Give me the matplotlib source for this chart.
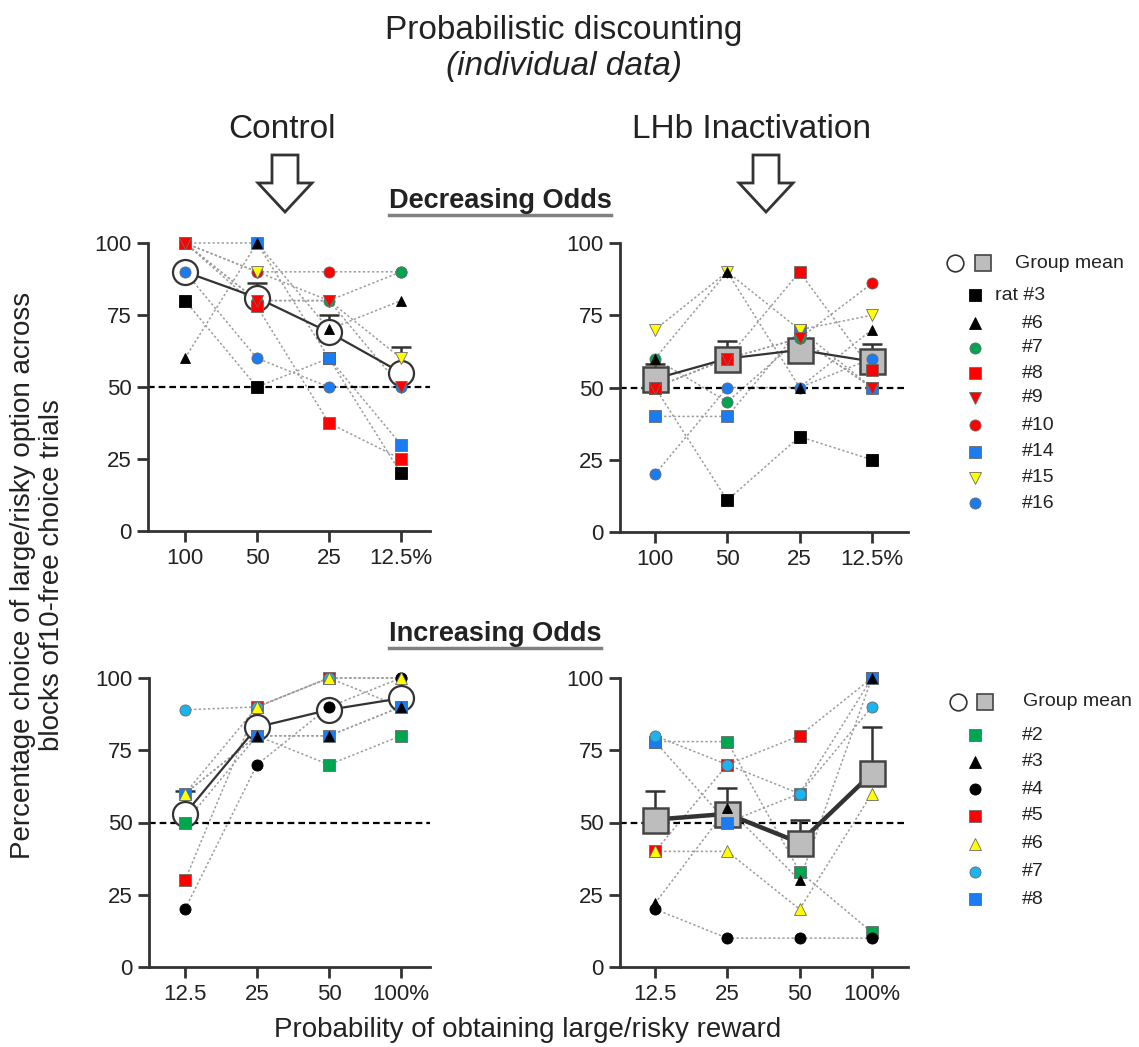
import matplotlib
matplotlib.use('Agg')
import matplotlib.pyplot as plt
from matplotlib.patches import Polygon
from matplotlib.lines import Line2D

plt.rcParams['font.family'] = ['Liberation Sans', 'DejaVu Sans']

# ---------------- data ----------------
dec_labels = ['100', '50', '25', '12.5%']
inc_labels = ['12.5', '25', '50', '100%']

dec_rats = ['rat #3', '#6', '#7', '#8', '#9', '#10', '#14', '#15', '#16']
dec_markers = ['s', '^', 'o', 's', 'v', 'o', 's', 'v', 'o']
dec_colors = ['#000000', '#000000', '#00a550', '#ff0000', '#ff0000', '#ff0000',
              '#1a7cf0', '#ffff00', '#1a7cf0']

inc_rats = ['#2', '#3', '#4', '#5', '#6', '#7', '#8']
inc_markers = ['s', '^', 'o', 's', '^', 'o', 's']
inc_colors = ['#00a550', '#000000', '#000000', '#ff0000', '#ffff00', '#1ab4f0', '#1a7cf0']

# Decreasing odds, control (rows follow dec_rats)
dec_control = [
    [80, 50, 60, 20],
    [60, 100, 70, 80],
    [100, 80, 80, 90],
    [100, 78, 37.5, 25],
    [100, 80, 80, 50],
    [100, 90, 90, 90],
    [100, 100, 60, 30],
    [100, 90, 80, 60],
    [90, 60, 50, 50],
]
dec_control_mean = [90, 81, 69, 55]
dec_control_sem = [2, 5, 6, 9]

# Decreasing odds, LHb inactivation
dec_lhb = [
    [50, 11, 33, 25],
    [60, 90, 50, 70],
    [60, 45, 67, 50],
    [50, 60, 90, 56],
    [50, 60, 67, 50],
    [50, 60, 67, 86],
    [40, 40, 70, 50],
    [70, 90, 70, 75],
    [20, 50, 50, 60],
]
dec_lhb_mean = [53, 60, 63, 59]
dec_lhb_sem = [5, 6, 2, 6]

# Increasing odds, control (rows follow inc_rats)
inc_control = [
    [50, 80, 70, 80],
    [60, 80, 80, 90],
    [20, 70, 90, 100],
    [30, 90, 100, 90],
    [60, 90, 100, 100],
    [89, 90, 100, 100],
    [60, 80, 80, 90],
]
inc_control_mean = [53, 83, 89, 93]
inc_control_sem = [8, 2, 2, 2]

# Increasing odds, LHb inactivation
inc_lhb = [
    [78, 78, 33, 12],
    [22, 55, 30, 100],
    [20, 10, 10, 10],
    [40, 70, 80, 100],
    [40, 40, 20, 60],
    [80, 70, 60, 90],
    [78, 50, 60, 100],
]
inc_lhb_mean = [51, 53, 43, 67]
inc_lhb_sem = [10, 9, 8, 16]

# drawing order of the individual markers (which one sits on top)
dec_draw_order = [0, 5, 2, 6, 8, 3, 7, 4, 1]
inc_draw_order = [0, 3, 6, 5, 2, 1, 4]

# ---------------- figure ----------------
W, H = 1139, 1047
fig = plt.figure(figsize=(W / 100, H / 100), dpi=100)
TXT = '#222222'
AX = '#333333'


def fx(px):
    return px / W


def fy(py):
    return 1 - py / H


def make_ax(left, right, top, bottom, tick0, spacing):
    ax = fig.add_axes([fx(left), fy(bottom), (right - left) / W, (bottom - top) / H])
    ax.patch.set_visible(False)
    ax.set_xlim((left - tick0) / spacing, (right - tick0) / spacing)
    ax.set_ylim(0, 100)
    for s in ['top', 'right']:
        ax.spines[s].set_visible(False)
    for s in ['left', 'bottom']:
        ax.spines[s].set_color(AX)
        ax.spines[s].set_linewidth(2)
    ax.tick_params(direction='out', length=8, width=2, color=AX,
                   labelsize=16, labelcolor=TXT, pad=4)
    ax.set_yticks([0, 25, 50, 75, 100])
    ax.set_yticklabels(['0', '25', '50', '75', '100'])
    return ax


def draw_panel(ax, xlabels, data, markers, colors, order, mean, sem, mean_kind, mean_lw):
    x = list(range(len(xlabels)))
    ax.set_xticks(x)
    ax.set_xticklabels(xlabels)
    ax.axhline(50, color='black', lw=1.6, ls=(0, (3, 1.8)), zorder=1.5)
    for vals in data:
        ax.plot(x, vals, ls=(0, (1.5, 1.5)), color='#9c9c9c', lw=1.1, zorder=1,
                clip_on=False)
    ax.plot(x, mean, color='#333333', lw=mean_lw, zorder=2, solid_capstyle='round')
    ax.errorbar(x, mean, yerr=[[0] * len(sem), sem], fmt='none', ecolor='#333333',
                elinewidth=1.8, capsize=7, capthick=1.8, zorder=2.2)
    if mean_kind == 'circle':
        ax.plot(x, mean, ls='none', marker='o', ms=18, mfc='white', mec='#333333',
                mew=1.6, zorder=3, clip_on=False)
    else:
        ax.plot(x, mean, ls='none', marker='s', ms=18, mfc='#bdbdbd', mec='#444444',
                mew=1.8, zorder=3, clip_on=False)
    for k, i in enumerate(order):
        vals, m, c = data[i], markers[i], colors[i]
        edge = '#000000' if c == '#000000' else '#6a6a6a'
        ms = 7 if (m in '^v' and c == '#000000') else 8
        ax.plot(x, vals, ls='none', marker=m, ms=ms, mfc=c, mec=edge, mew=0.6,
                zorder=4 + 0.01 * k, clip_on=False)


ax_tl = make_ax(148, 430, 243, 531, 185, 72)
ax_tr = make_ax(620, 908, 243, 532, 655, 72.3)
ax_bl = make_ax(149, 430, 678, 967, 185, 72)
ax_br = make_ax(620, 908, 678, 967, 655, 72.3)

draw_panel(ax_tl, dec_labels, dec_control, dec_markers, dec_colors, dec_draw_order,
           dec_control_mean, dec_control_sem, 'circle', 1.6)
draw_panel(ax_tr, dec_labels, dec_lhb, dec_markers, dec_colors, dec_draw_order,
           dec_lhb_mean, dec_lhb_sem, 'square', 1.6)
draw_panel(ax_bl, inc_labels, inc_control, inc_markers, inc_colors, inc_draw_order,
           inc_control_mean, inc_control_sem, 'circle', 1.6)
draw_panel(ax_br, inc_labels, inc_lhb, inc_markers, inc_colors, inc_draw_order,
           inc_lhb_mean, inc_lhb_sem, 'square', 3.2)

# ---------------- texts ----------------
fig.text(fx(564), fy(30), 'Probabilistic discounting', ha='center', va='center',
         fontsize=24, color=TXT)
fig.text(fx(564), fy(67), '(individual data)', ha='center', va='center',
         fontsize=24, style='italic', color=TXT)
fig.text(fx(282), fy(130), 'Control', ha='center', va='center', fontsize=24, color=TXT)
fig.text(fx(752), fy(130), 'LHb Inactivation', ha='center', va='center',
         fontsize=24, color=TXT)
t_dec = fig.text(fx(500), fy(201), 'Decreasing Odds', ha='center', va='center',
                 fontsize=19.5, weight='bold', color=TXT)
t_inc = fig.text(fx(495), fy(634), 'Increasing Odds', ha='center', va='center',
                 fontsize=19.5, weight='bold', color=TXT)
fig.text(fx(38), fy(575),
         'Percentage choice of large/risky option across\nblocks of10-free choice trials',
         rotation=90, ha='center', va='center', fontsize=20, color=TXT,
         multialignment='center', linespacing=1.15)
fig.text(fx(528), fy(1030), 'Probability of obtaining large/risky reward',
         ha='center', va='center', fontsize=20, color=TXT)

# ---------------- overlay: arrows & legends ----------------
ov = fig.add_axes([0, 0, 1, 1], zorder=10)
ov.patch.set_visible(False)
ov.set_xlim(0, W)
ov.set_ylim(H, 0)
ov.axis('off')


def down_arrow(cx):
    pts = [(cx - 13, 155), (cx + 13, 155), (cx + 13, 183), (cx + 27, 183),
           (cx, 212), (cx - 27, 183), (cx - 13, 183)]
    ov.add_patch(Polygon(pts, closed=True, facecolor='white', edgecolor='#333333',
                         lw=2, joinstyle='miter'))


down_arrow(285)
down_arrow(766)

# top legend
ov.plot([955], [263], marker='o', ms=12, mfc='white', mec='#333333', mew=1.2, ls='none')
ov.plot([983], [263], marker='s', ms=12, mfc='#bdbdbd', mec='#444444', mew=1.2, ls='none')
ov.text(1015, 263, 'Group mean', fontsize=14, va='center', ha='left', color=TXT)
top_rows = [295, 323, 348, 373, 398, 425, 452, 478, 503]
for name, m, c, yy in zip(dec_rats, dec_markers, dec_colors, top_rows):
    edge = '#000000' if c == '#000000' else '#6a6a6a'
    ov.plot([975], [yy], marker=m, ms=8, mfc=c, mec=edge, mew=0.6, ls='none')
    xt = 995 if name.startswith('rat') else 1022
    ov.text(xt, yy, name, fontsize=14, va='center', ha='left', color=TXT)

# bottom legend
ov.plot([958], [702], marker='o', ms=12, mfc='white', mec='#333333', mew=1.2, ls='none')
ov.plot([985], [702], marker='s', ms=12, mfc='#bdbdbd', mec='#444444', mew=1.2, ls='none')
ov.text(1023, 702, 'Group mean', fontsize=14, va='center', ha='left', color=TXT)
bot_rows = [735, 762, 789, 816, 844, 872, 899]
for name, m, c, yy in zip(inc_rats, inc_markers, inc_colors, bot_rows):
    edge = '#000000' if c == '#000000' else '#6a6a6a'
    ov.plot([975], [yy], marker=m, ms=8, mfc=c, mec=edge, mew=0.6, ls='none')
    ov.text(1022, yy, name, fontsize=14, va='center', ha='left', color=TXT)

# underlines for section titles
fig.canvas.draw()
r = fig.canvas.get_renderer()
for t in (t_dec, t_inc):
    bb = t.get_window_extent(renderer=r)
    y0 = bb.y0 - 1
    fig.add_artist(Line2D([bb.x0 / W, bb.x1 / W], [y0 / H, y0 / H],
                          color='#808080', lw=2.5, transform=fig.transFigure))

fig.savefig('out.png', dpi=100)
